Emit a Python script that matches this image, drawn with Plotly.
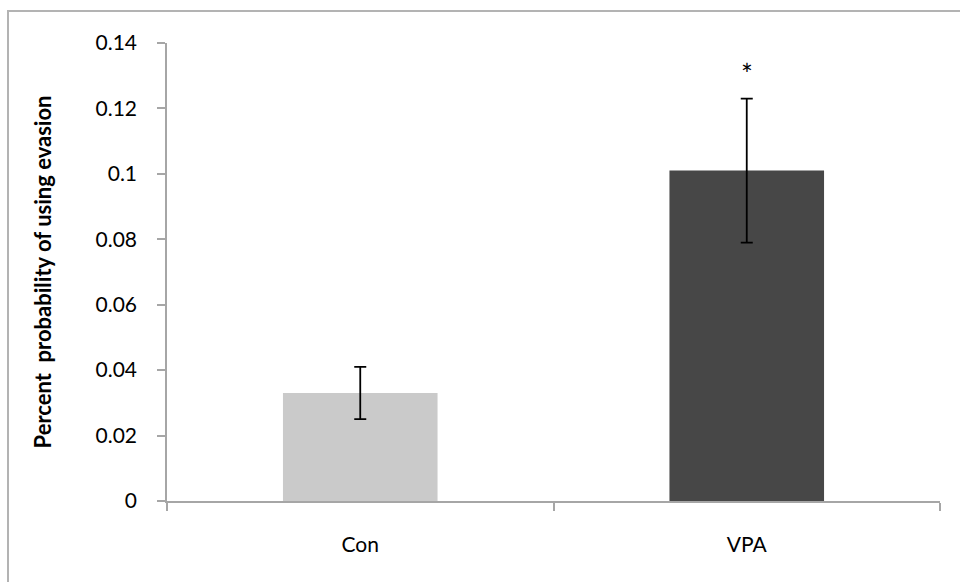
import plotly.graph_objects as go

categories = ["Con", "VPA"]
values = [0.033, 0.101]
errors = [0.008, 0.022]
bar_colors = ["#cacaca", "#474747"]
y_ticks = [0, 0.02, 0.04, 0.06, 0.08, 0.1, 0.12, 0.14]
y_tick_labels = ["0", "0.02", "0.04", "0.06", "0.08", "0.1", "0.12", "0.14"]
sig_marks = ["", "*"]
sig_y = [None, 0.1305]

FONT = "Lato, 'Open Sans', sans-serif"

fig = go.Figure()
fig.add_trace(go.Bar(
    x=categories, y=values,
    marker=dict(color=bar_colors, line=dict(width=0)),
    error_y=dict(type="data", array=errors, visible=True,
                 color="black", thickness=1.8, width=6),
    showlegend=False,
))

for cat, mark, yv in zip(categories, sig_marks, sig_y):
    if mark:
        fig.add_annotation(x=cat, y=yv, text=mark, showarrow=False,
                           font=dict(family=FONT, size=28, color="black"),
                           xanchor="center", yanchor="middle")

# outer chart border (only top and left visible, cropped)
fig.add_shape(type="rect", xref="paper", yref="paper",
              x0=-0.2057, y0=-0.35, x1=1.2, y1=1.0699,
              line=dict(color="#b3b3b3", width=2), layer="below")

fig.update_layout(
    width=960, height=582,
    margin=dict(l=167, r=20, t=43, b=81),
    paper_bgcolor="white", plot_bgcolor="white",
    bargap=0.6,
    font=dict(family=FONT, color="black"),
)
fig.update_xaxes(
    showline=True, linecolor="#a6a6a6", linewidth=1.5,
    ticks="outside", ticklen=8, tickcolor="#a6a6a6", tickwidth=1.5,
    tickson="boundaries", showgrid=False, zeroline=False,
    tickfont=dict(family=FONT, size=21, color="black"),
    ticklabelstandoff=24,
)
fig.update_yaxes(
    range=[0, 0.14], tickvals=y_ticks, ticktext=y_tick_labels,
    showline=True, linecolor="#a6a6a6", linewidth=1.5,
    ticks="outside", ticklen=8, tickcolor="#a6a6a6", tickwidth=1.5,
    showgrid=False, zeroline=False,
    tickfont=dict(family=FONT, size=21, color="black"),
    ticklabelstandoff=16,
    title=dict(text="<b>Percent\u00a0\u00a0probability of using evasion</b>",
               font=dict(family=FONT, size=22, color="black"), standoff=38),
    automargin=False,
)

fig.write_html("out.html")
